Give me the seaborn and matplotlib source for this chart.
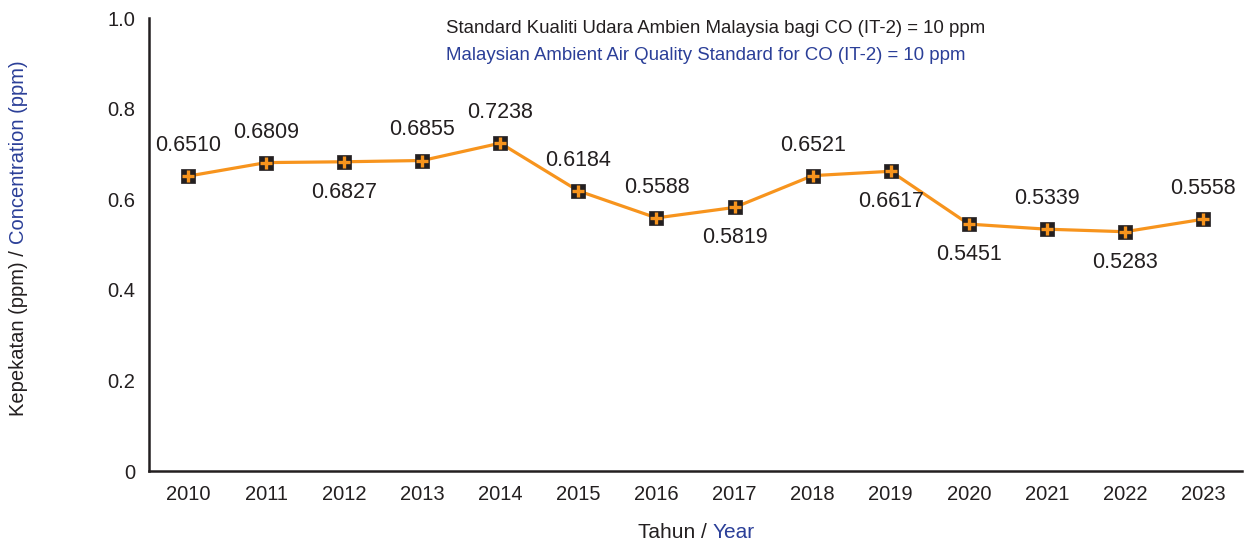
import matplotlib
matplotlib.use("Agg")
import matplotlib.pyplot as plt
import seaborn as sns
import pandas as pd

# CO annual mean concentration (ppm)
years = [2010, 2011, 2012, 2013, 2014, 2015, 2016, 2017, 2018, 2019, 2020, 2021, 2022, 2023]
co_ppm = [0.6510, 0.6809, 0.6827, 0.6855, 0.7238, 0.6184, 0.5588, 0.5819, 0.6521, 0.6617,
          0.5451, 0.5339, 0.5283, 0.5558]
# which side of the point the value label sits on (1 above, -1 below)
label_side = [1, 1, -1, 1, 1, 1, 1, -1, 1, -1, -1, 1, -1, 1]

title_ms = "Standard Kualiti Udara Ambien Malaysia bagi CO (IT-2) = 10 ppm"
title_en = "Malaysian Ambient Air Quality Standard for CO (IT-2) = 10 ppm"

ORANGE = "#f7941d"
DARK = "#231f20"
BLUE = "#2b3f98"

sns.set_style("white")
plt.rcParams['font.family'] = ['Liberation Sans', 'DejaVu Sans']

df = pd.DataFrame({"year": years, "co": co_ppm})

fig = plt.figure(figsize=(12.49, 5.47), dpi=100)
ax = fig.add_axes([0.1193, 0.1389, 0.8751, 0.8281])

sns.lineplot(data=df, x="year", y="co", color=ORANGE, linewidth=2.3, ax=ax, zorder=2)
sns.scatterplot(data=df, x="year", y="co", marker="s", s=105, color=DARK, edgecolor=DARK,
                linewidth=0.5, ax=ax, zorder=3)
sns.scatterplot(data=df, x="year", y="co", marker="+", s=85, color=ORANGE, linewidth=2.4,
                ax=ax, zorder=4)

for yr, v, side in zip(years, co_ppm, label_side):
    ax.annotate(f"{v:.4f}", (yr, v), xytext=(0, 22 * side), textcoords="offset points",
                ha="center", va="center", fontsize=15.5, color=DARK)

ax.set_xlim(2009.5, 2023.5)
ax.set_ylim(0, 1.0)
ax.set_xticks(years)
ax.set_xticklabels([str(y) for y in years])
ax.set_yticks([0, 0.2, 0.4, 0.6, 0.8, 1.0])
ax.set_yticklabels(["0", "0.2", "0.4", "0.6", "0.8", "1.0"])
ax.tick_params(axis="both", length=0, labelsize=14.5, labelcolor=DARK)
ax.tick_params(axis="y", pad=10)
ax.tick_params(axis="x", pad=10)
ax.set_xlabel("")
ax.set_ylabel("")

sns.despine(ax=ax)
for side in ["left", "bottom"]:
    ax.spines[side].set_color(DARK)
    ax.spines[side].set_linewidth(1.8)

ax.text(0.272, 0.978, title_ms, transform=ax.transAxes, fontsize=13.4, color=DARK,
        ha="left", va="center")
ax.text(0.272, 0.918, title_en, transform=ax.transAxes, fontsize=13.4, color=BLUE,
        ha="left", va="center")

# two-colour axis titles
fig.canvas.draw()
renderer = fig.canvas.get_renderer()

xl1 = fig.text(0.5, 1 - 533 / 547, "Tahun / ", fontsize=15, color=DARK, ha="left", va="center")
xl2 = fig.text(0.5, 1 - 533 / 547, "Year", fontsize=15, color=BLUE, ha="left", va="center")
w1 = xl1.get_window_extent(renderer).width
w2 = xl2.get_window_extent(renderer).width
x0 = 696 - (w1 + w2) / 2
xl1.set_x(x0 / 1249)
xl2.set_x((x0 + w1) / 1249)

yl1 = fig.text(19 / 1249, 0.5, "Kepekatan (ppm) / ", fontsize=14.5, color=DARK, rotation=90,
               ha="center", va="bottom")
yl2 = fig.text(19 / 1249, 0.5, "Concentration (ppm)", fontsize=14.5, color=BLUE, rotation=90,
               ha="center", va="bottom")
h1 = yl1.get_window_extent(renderer).height
h2 = yl2.get_window_extent(renderer).height
y0 = 547 - 238 - (h1 + h2) / 2
yl1.set_y(y0 / 547)
yl2.set_y((y0 + h1) / 547)

fig.savefig("out.png", dpi=100)
